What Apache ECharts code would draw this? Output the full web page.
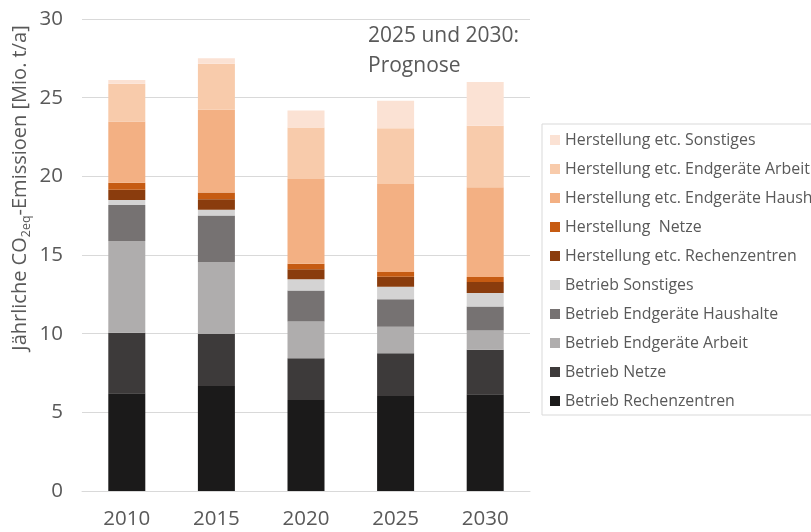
<!DOCTYPE html>
<html>
<head>
<meta charset="utf-8">
<script src="https://cdn.jsdelivr.net/npm/echarts@6/dist/echarts.min.js"></script>
<style>
html,body{margin:0;padding:0;background:#fff;}
#c{width:811px;height:532px;}
</style>
</head>
<body>
<div id="c"></div>
<script>
const years = ['2010', '2015', '2020', '2025', '2030'];
const betriebRechenzentren = [6.21, 6.68, 5.79, 6.04, 6.15];
const betriebNetze = [3.85, 3.31, 2.65, 2.71, 2.82];
const betriebEndgeraeteArbeit = [5.83, 4.56, 2.33, 1.69, 1.23];
const betriebEndgeraeteHaushalte = [2.29, 2.96, 1.97, 1.74, 1.53];
const betriebSonstiges = [0.32, 0.36, 0.72, 0.80, 0.85];
const herstRechenzentren = [0.64, 0.68, 0.64, 0.64, 0.70];
const herstNetze = [0.46, 0.42, 0.34, 0.30, 0.32];
const herstEndgeraeteHaushalte = [3.88, 5.26, 5.39, 5.59, 5.70];
const herstEndgeraeteArbeit = [2.40, 2.92, 3.28, 3.54, 3.92];
const herstSonstiges = [0.25, 0.36, 1.08, 1.76, 2.78];
const yTicks = [0, 5, 10, 15, 20, 25, 30];

const seriesDefs = [
  ['Betrieb Rechenzentren', betriebRechenzentren, '#1b1a1a'],
  ['Betrieb Netze', betriebNetze, '#3d3a3a'],
  ['Betrieb Endgeräte Arbeit', betriebEndgeraeteArbeit, '#afadad'],
  ['Betrieb Endgeräte Haushalte', betriebEndgeraeteHaushalte, '#767272'],
  ['Betrieb Sonstiges', betriebSonstiges, '#d4d3d3'],
  ['Herstellung etc. Rechenzentren', herstRechenzentren, '#8a3c0d'],
  ['Herstellung  Netze', herstNetze, '#c65b12'],
  ['Herstellung etc. Endgeräte Haushalte', herstEndgeraeteHaushalte, '#f3b083'],
  ['Herstellung etc. Endgeräte Arbeit', herstEndgeraeteArbeit, '#f8cbab'],
  ['Herstellung etc. Sonstiges', herstSonstiges, '#fbe2d4']
];

const txt = '#595959';
const font = '"Open Sans", sans-serif';

const chart = echarts.init(document.getElementById('c'), null, {renderer: 'canvas'});
chart.setOption({
  animation: false,
  backgroundColor: '#fff',
  grid: {left: 82, right: 281, top: 19, bottom: 41, containLabel: false, outerBoundsMode: 'none'},
  xAxis: {
    type: 'category',
    data: years,
    axisLine: {lineStyle: {color: '#d9d9d9', width: 1}},
    axisTick: {show: false},
    axisLabel: {color: txt, fontSize: 20.5, fontFamily: font, margin: 18}
  },
  yAxis: {
    type: 'value',
    min: yTicks[0],
    max: yTicks[yTicks.length - 1],
    interval: 5,
    axisLine: {show: false},
    axisTick: {show: false},
    splitLine: {lineStyle: {color: '#d9d9d9', width: 1}},
    axisLabel: {color: txt, fontSize: 20.5, fontFamily: font, margin: 19}
  },
  legend: {
    orient: 'vertical',
    left: 542,
    top: 124,
    data: seriesDefs.map(d => d[0]).reverse(),
    icon: 'rect',
    itemWidth: 10,
    itemHeight: 10,
    itemGap: 13,
    itemTextGap: 6,
    borderColor: '#d9d9d9',
    borderWidth: 1,
    padding: [8, 20, 6, 8],
    textStyle: {color: txt, fontSize: 15.9, fontFamily: font, lineHeight: 16}
  },
  graphic: [{
    type: 'text',
    left: 368,
    top: 21,
    style: {
      text: '2025 und 2030:\nPrognose',
      fill: txt,
      font: '21px "Open Sans", sans-serif',
      lineHeight: 30
    }
  }, {
    type: 'text',
    x: 20,
    y: 188,
    rotation: Math.PI / 2,
    style: {
      text: 'Jährliche CO{sub|2eq}-Emissioen [Mio. t/a]',
      fill: txt,
      fontSize: 20,
      fontFamily: font,
      lineHeight: 26,
      align: 'center',
      verticalAlign: 'middle',
      rich: {
        sub: {fontSize: 12.5, fontFamily: font, fill: txt, verticalAlign: 'bottom', lineHeight: 14}
      }
    }
  }],
  series: seriesDefs.map(d => ({
    name: d[0],
    type: 'bar',
    stack: 'total',
    data: d[1],
    barWidth: 37,
    itemStyle: {color: d[2]},
    emphasis: {disabled: true}
  }))
});
</script>
</body>
</html>
